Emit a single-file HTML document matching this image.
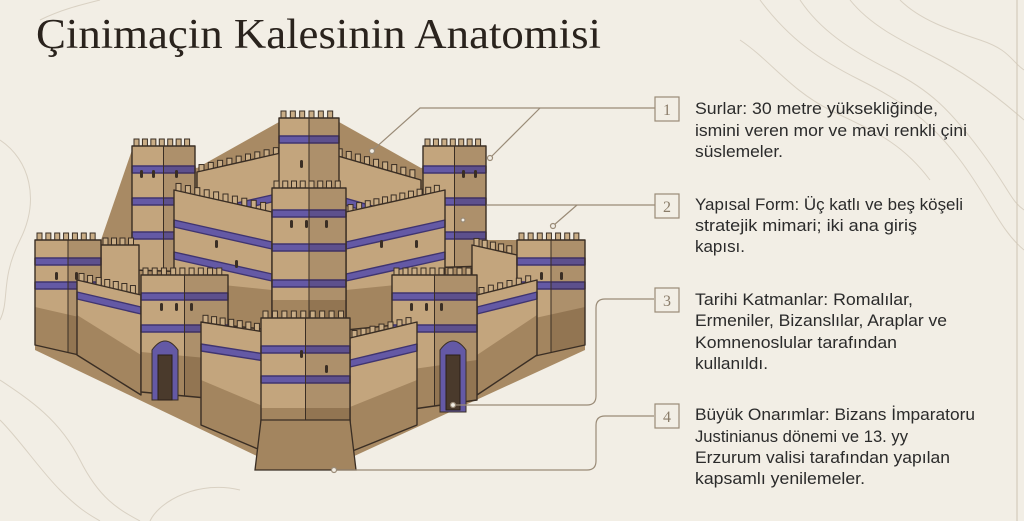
<!DOCTYPE html>
<html><head><meta charset="utf-8"><style>
html,body{margin:0;padding:0;background:#f2eee5;}
svg{display:block}
</style></head><body>
<svg id="s" width="1024" height="521" viewBox="0 0 1024 521" xmlns="http://www.w3.org/2000/svg">
<rect width="1024" height="521" fill="#f2eee5"/>
<g fill="none" stroke="#d9d1c3" stroke-width="1">
<path d="M760 0 C790 40 820 60 860 80 S930 120 960 160 S1000 230 1024 250"/>
<path d="M800 0 C820 30 850 50 890 70 S950 110 980 150 S1010 200 1024 210"/>
<path d="M850 0 C870 25 900 40 930 55 S990 90 1024 120"/>
<path d="M900 0 C920 20 950 30 980 40 S1010 60 1024 70"/>
<path d="M740 40 C770 60 790 90 830 110 S900 140 930 180"/>
<path d="M0 140 C30 160 40 200 20 240 S10 300 0 320"/>
<path d="M0 380 C30 400 60 420 80 460 S120 510 140 521"/>
<path d="M0 420 C20 440 40 470 60 490 S90 515 100 521"/>
<path d="M150 521 C160 500 200 480 240 490"/>
<path d="M40 20 C60 10 80 5 100 0"/>
</g>
<line x1="1017" y1="0" x2="1017" y2="521" stroke="#cfc4b2" stroke-width="1"/>
<polygon points="35,240 101,240 132,150 197,168 279,122 339,122 421,168 486,150 486,240 585,240 585,350 350,458 261,458 35,350" fill="#a88a64"/>
<g id="castle"></g>
<text x="36" y="48" font-family="Liberation Serif, serif" font-size="42" fill="#2a231d" textLength="565" lengthAdjust="spacingAndGlyphs">Çinimaçin Kalesinin Anatomisi</text>
<g stroke="#9a8b77" stroke-width="1.2" fill="none">
<path d="M655 108 H420 L373 150"/>
<path d="M540 108 L491 157"/>
<path d="M655 205 H487"/>
<path d="M577 205 L554 225"/>
<path d="M654 299 H605 Q596 299 596 308 V396 Q596 405 587 405 H455"/>
<path d="M654 416 H605 Q596 416 596 425 V461 Q596 470 587 470 H336"/>
<rect x="655" y="97" width="24" height="24" fill="#f2eee5"/>
<rect x="655" y="194" width="24" height="24" fill="#f2eee5"/>
<rect x="655" y="288" width="24" height="24" fill="#f2eee5"/>
<rect x="655" y="404" width="24" height="24" fill="#f2eee5"/>
</g>
<g fill="#f2eee5" stroke="#9a8b77" stroke-width="1.2">
<circle cx="372" cy="151" r="2.5"/><circle cx="490" cy="158" r="2.5"/><circle cx="553" cy="226" r="2.5"/><circle cx="453" cy="405" r="2.5"/><circle cx="334" cy="470" r="2.5"/><circle cx="463" cy="220" r="2"/>
</g>
<g font-family="Liberation Serif, serif" font-size="16" fill="#8a7c69" text-anchor="middle">
<text x="667" y="115">1</text><text x="667" y="212">2</text><text x="667" y="306">3</text><text x="667" y="422">4</text>
</g>
<g font-family="Liberation Sans, sans-serif" font-size="17" fill="#2b2b2b">
<text x="695" y="114" textLength="243" lengthAdjust="spacingAndGlyphs">Surlar: 30 metre yüksekliğinde,</text>
<text x="695" y="136" textLength="272" lengthAdjust="spacingAndGlyphs">ismini veren mor ve mavi renkli çini</text>
<text x="695" y="157" textLength="88" lengthAdjust="spacingAndGlyphs">süslemeler.</text>
<text x="695" y="210" textLength="268" lengthAdjust="spacingAndGlyphs">Yapısal Form: Üç katlı ve beş köşeli</text>
<text x="695" y="231" textLength="222" lengthAdjust="spacingAndGlyphs">stratejik mimari; iki ana giriş</text>
<text x="695" y="252" textLength="50" lengthAdjust="spacingAndGlyphs">kapısı.</text>
<text x="695" y="305" textLength="218" lengthAdjust="spacingAndGlyphs">Tarihi Katmanlar: Romalılar,</text>
<text x="695" y="326" textLength="252" lengthAdjust="spacingAndGlyphs">Ermeniler, Bizanslılar, Araplar ve</text>
<text x="695" y="348" textLength="202" lengthAdjust="spacingAndGlyphs">Komnenoslular tarafından</text>
<text x="695" y="369" textLength="73" lengthAdjust="spacingAndGlyphs">kullanıldı.</text>
<text x="695" y="420" textLength="280" lengthAdjust="spacingAndGlyphs">Büyük Onarımlar: Bizans İmparatoru</text>
<text x="695" y="442" textLength="213" lengthAdjust="spacingAndGlyphs">Justinianus dönemi ve 13. yy</text>
<text x="695" y="463" textLength="255" lengthAdjust="spacingAndGlyphs">Erzurum valisi tarafından yapılan</text>
<text x="695" y="484" textLength="170" lengthAdjust="spacingAndGlyphs">kapsamlı yenilemeler.</text>
</g>
</svg>
<script>
var NS="http://www.w3.org/2000/svg",G=document.getElementById("castle");
function el(t,a){var e=document.createElementNS(NS,t);for(var k in a)e.setAttribute(k,a[k]);G.appendChild(e);return e;}
function q(x1,x2,t1,t2,b1,b2,f,st){el("polygon",{points:x1+","+t1+" "+x2+","+t2+" "+x2+","+b2+" "+x1+","+b1,fill:f,stroke:st||"none","stroke-width":1.4,"stroke-linejoin":"round"});}
function blk(x1,x2,t1,t2,b1,b2,bands,stone,split,win){
 var O="#3a2e24";
 var n=Math.floor((x2-x1)/9);
 for(var i=0;i<n;i++){var x=x1+2+i*(x2-x1-4)/n;var y=t1+(t2-t1)*(x-x1)/(x2-x1);
  el("rect",{x:x,y:y-7,width:5,height:8,fill:"#c9ad86",stroke:O,"stroke-width":1});}
 q(x1,x2,t1,t2,b1,b2,"#c3a57d");
 if(stone)q(x1,x2,b1-stone,b2-stone,b1,b2,"#a3855f");
 for(var j=0;j<bands.length;j++){var d=bands[j];q(x1,x2,t1+d,t2+d,t1+d+7,t2+d+7,"#6459a5","#3f3470");}
 if(split){var m=x1+(x2-x1)*0.5;var tm=t1+(t2-t1)*0.5;var bm=b1+(b2-b1)*0.5;
  q(m,x2,tm,t2,bm,b2,"rgba(60,40,20,0.16)");
  el("line",{x1:m,y1:tm,x2:m,y2:bm,stroke:O,"stroke-width":1});}
 if(win){for(var w=0;w<win.length;w++){el("rect",{x:win[w][0],y:win[w][1],width:3,height:8,rx:1.5,fill:"#3a2e24"});}}
 q(x1,x2,t1,t2,b1,b2,"none",O);
}
blk(197,294,172,150,240,230,[40],0,false);
blk(317,421,150,180,230,240,[40],0,false);
blk(132,195,146,146,270,272,[20,52,86],0,true,[[140,170],[152,170],[175,170]]);
blk(279,339,118,118,200,200,[18],0,true,[[300,160]]);
blk(423,486,146,146,268,266,[20,52,86],0,true,[[462,170],[474,170]]);
blk(101,139,245,245,330,330,[],30,false);
blk(472,517,245,255,330,330,[],30,false);
blk(174,272,190,212,320,330,[30,62],40,false,[[215,240],[235,260]]);
blk(346,445,212,190,330,320,[30,62],40,false,[[380,240],[415,240]]);
blk(272,346,188,188,330,330,[22,56,92],30,true,[[290,220],[305,220],[325,220]]);
blk(35,101,240,240,345,360,[18,42],38,true,[[55,272],[75,272]]);
blk(517,585,240,240,360,345,[18,42],38,true,[[540,272],[560,272]]);
blk(77,141,280,295,355,395,[12],40,false);
blk(477,537,295,280,395,355,[12],40,false);
blk(141,228,275,275,392,400,[18,50],40,true,[[160,303],[175,303],[190,303]]);
blk(392,477,275,275,412,400,[18,50],40,true,[[410,303],[425,303],[440,303]]);
el("path",{d:"M152 400 V350 Q165 332 178 350 V400 Z",fill:"#6459a5",stroke:"#3a2e24"});
el("rect",{x:158,y:355,width:14,height:45,fill:"#4a3a2c",stroke:"#2a1f17"});
el("path",{d:"M440 412 V350 Q453 332 466 350 V412 Z",fill:"#6459a5",stroke:"#3a2e24"});
el("rect",{x:446,y:355,width:14,height:55,fill:"#4a3a2c",stroke:"#2a1f17"});
blk(201,265,322,332,425,452,[22],45,false);
blk(350,417,338,322,452,425,[22],45,false);
blk(261,350,318,318,458,458,[28,58],50,true,[[300,350],[325,365]]);
el("polygon",{points:"255,470 261,420 350,420 356,470",fill:"#a3855f",stroke:"#3a2e24","stroke-width":1.3});
</script>
</body></html>
